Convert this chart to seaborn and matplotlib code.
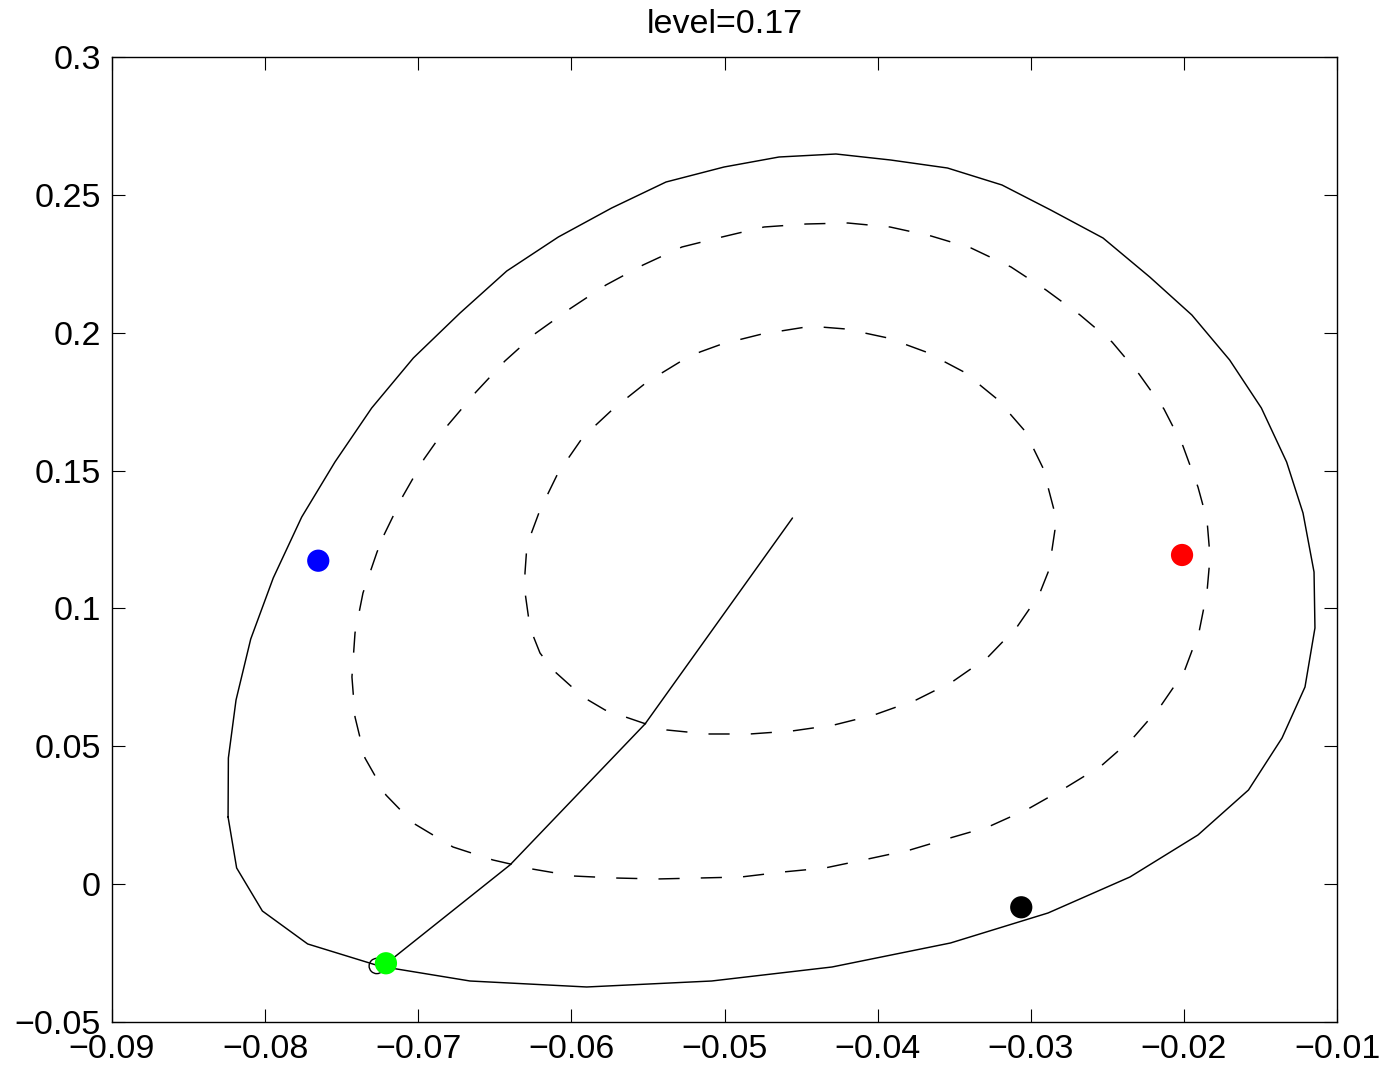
import numpy as np
import pandas as pd
import matplotlib
matplotlib.use("Agg")
import matplotlib.pyplot as plt
import seaborn as sns

# ---------------- data ----------------
title_text = "level=0.17"

# outer solid closed contour
outer_x = [-0.08242, -0.08240, -0.08190, -0.08094, -0.07947, -0.07761, -0.07544, -0.07304,
           -0.07032, -0.06727, -0.06422, -0.06085, -0.05737, -0.05382, -0.05003, -0.04644,
           -0.04272, -0.03915, -0.03544, -0.03188, -0.02870, -0.02528, -0.02223, -0.01948,
           -0.01701, -0.01494, -0.01329, -0.01222, -0.01150, -0.01144, -0.01209, -0.01359,
           -0.01578, -0.01908, -0.02352, -0.02887, -0.03524, -0.04298, -0.05084, -0.05900,
           -0.06662, -0.07141, -0.07276, -0.07722, -0.08018, -0.08186]
outer_y = [0.02435, 0.04575, 0.06679, 0.08891, 0.11104, 0.13316, 0.15311, 0.17270,
           0.19083, 0.20715, 0.22238, 0.23472, 0.24523, 0.25466, 0.26010, 0.26373,
           0.26482, 0.26264, 0.25974, 0.25358, 0.24451, 0.23435, 0.22021, 0.20643,
           0.19010, 0.17270, 0.15311, 0.13461, 0.11321, 0.09290, 0.07151, 0.05301,
           0.03415, 0.01783, 0.00260, -0.01046, -0.02134, -0.03005, -0.03513, -0.03730,
           -0.03513, -0.03077, -0.02932, -0.02170, -0.00974, 0.00586]

# middle dashed closed contour
mid_x = [-0.07224, -0.07100, -0.06962, -0.06806, -0.06623, -0.06434, -0.06231, -0.06002,
         -0.05774, -0.05532, -0.05278, -0.05016, -0.04742, -0.04468, -0.04194, -0.03919,
         -0.03651, -0.03390, -0.03129, -0.02900, -0.02678, -0.02469, -0.02293, -0.02130,
         -0.02006, -0.01908, -0.01849, -0.01829, -0.01849, -0.01901, -0.01999, -0.02156,
         -0.02332, -0.02541, -0.02776, -0.03018, -0.03279, -0.03527, -0.03789, -0.04063,
         -0.04344, -0.04618, -0.04892, -0.05160, -0.05441, -0.05715, -0.05989, -0.06257,
         -0.06512, -0.06773, -0.07034, -0.07211, -0.07348, -0.07413, -0.07433, -0.07413,
         -0.07361, -0.07269]
mid_y = [0.12663, 0.14078, 0.15420, 0.16653, 0.17850, 0.18974, 0.19990, 0.20896,
         0.21731, 0.22456, 0.23109, 0.23472, 0.23834, 0.23943, 0.23979, 0.23834,
         0.23508, 0.23073, 0.22384, 0.21549, 0.20643, 0.19663, 0.18503, 0.17233,
         0.15891, 0.14404, 0.13207, 0.11865, 0.10596, 0.09145, 0.07695, 0.06425,
         0.05301, 0.04285, 0.03487, 0.02726, 0.02073, 0.01674, 0.01239, 0.00912,
         0.00586, 0.00441, 0.00259, 0.00223, 0.00187, 0.00223, 0.00296, 0.00550,
         0.00876, 0.01347, 0.02218, 0.03233, 0.04575, 0.06062, 0.07513, 0.09109,
         0.10560, 0.12047]

# inner dashed closed contour
inner_x = [-0.05160, -0.05016, -0.04755, -0.04468, -0.04370, -0.04207, -0.03932, -0.03684,
           -0.03436, -0.03220, -0.03038, -0.02920, -0.02848, -0.02842, -0.02881, -0.02946,
           -0.03090, -0.03279, -0.03514, -0.03749, -0.04024, -0.04285, -0.04559, -0.04834,
           -0.05114, -0.05376, -0.05532, -0.05780, -0.05924, -0.06120, -0.06205, -0.06270,
           -0.06303, -0.06303, -0.06290, -0.06205, -0.06087, -0.05924, -0.05728, -0.05506,
           -0.05271]
inner_y = [0.19301, 0.19591, 0.19953, 0.20207, 0.20207, 0.20135, 0.19808, 0.19301,
           0.18575, 0.17596, 0.16435, 0.15093, 0.13570, 0.12845, 0.11394, 0.10487,
           0.09327, 0.08239, 0.07332, 0.06679, 0.06135, 0.05772, 0.05555, 0.05446,
           0.05446, 0.05591, 0.05845, 0.06316, 0.06788, 0.07767, 0.08384, 0.09290,
           0.10596, 0.11285, 0.12301, 0.13570, 0.14912, 0.16218, 0.17233, 0.18213,
           0.19010]

# solid path from the centre to the outer contour
path_x = [-0.04556, -0.05519, -0.06401, -0.07204]
path_y = [0.13280, 0.05809, 0.00695, -0.02860]

# filled points
pt_names = ["blue", "red", "black", "green"]
pt_x = [-0.07653, -0.02012, -0.03062, -0.07211]
pt_y = [0.11731, 0.11938, -0.00839, -0.02870]

# open circle
open_x = [-0.07271]
open_y = [-0.02969]

x_ticks = [-0.09, -0.08, -0.07, -0.06, -0.05, -0.04, -0.03, -0.02, -0.01]
x_labels = ["\u22120.09", "\u22120.08", "\u22120.07", "\u22120.06", "\u22120.05",
            "\u22120.04", "\u22120.03", "\u22120.02", "\u22120.01"]
y_ticks = [-0.05, 0.0, 0.05, 0.1, 0.15, 0.2, 0.25, 0.3]
y_labels = ["\u22120.05", "0", "0.05", "0.1", "0.15", "0.2", "0.25", "0.3"]

# ---------------- plot ----------------
sns.set_theme(style="ticks")
plt.rcParams["font.family"] = ["Liberation Sans", "DejaVu Sans"]
plt.rcParams["text.color"] = "black"

fig = plt.figure(figsize=(13.85, 10.71), dpi=100)
ax = fig.add_axes([112 / 1385, 1 - 1022 / 1071, (1337 - 112) / 1385, (1022 - 57) / 1071])


def closed(xs, ys):
    return pd.DataFrame({"x": list(xs) + [xs[0]], "y": list(ys) + [ys[0]]})


d_outer = closed(outer_x, outer_y)
d_mid = closed(mid_x, mid_y)
d_inner = closed(inner_x, inner_y)
d_path = pd.DataFrame({"x": path_x, "y": path_y})

sns.lineplot(data=d_outer, x="x", y="y", sort=False, estimator=None, color="black",
             linewidth=1.05, ax=ax)
sns.lineplot(data=d_mid, x="x", y="y", sort=False, estimator=None, color="black",
             linewidth=1.05, linestyle=(0, (14.5, 14.5)), ax=ax)
sns.lineplot(data=d_inner, x="x", y="y", sort=False, estimator=None, color="black",
             linewidth=1.05, linestyle=(0, (14.5, 14.5)), ax=ax)
sns.lineplot(data=d_path, x="x", y="y", sort=False, estimator=None, color="black",
             linewidth=1.05, ax=ax)

ax.scatter(open_x, open_y, s=11 ** 2, facecolors="none", edgecolors="black",
           linewidths=1.0, zorder=4)

d_pts = pd.DataFrame({"x": pt_x, "y": pt_y, "name": pt_names})
sns.scatterplot(data=d_pts, x="x", y="y", hue="name",
                palette={"blue": "#0000ff", "red": "#ff0000", "black": "#000000",
                         "green": "#00ff00"},
                s=16 ** 2, linewidth=0, legend=False, zorder=5, ax=ax)

ax.set_xlim(-0.09, -0.01)
ax.set_ylim(-0.05, 0.3)
ax.set_xticks(x_ticks)
ax.set_xticklabels(x_labels)
ax.set_yticks(y_ticks)
ax.set_yticklabels(y_labels)
ax.set_xlabel("")
ax.set_ylabel("")

for s in ax.spines.values():
    s.set_visible(True)
    s.set_linewidth(1.0)
    s.set_color("black")

ax.tick_params(axis="both", which="major", direction="in", length=9.5, width=0.8,
               top=True, right=True, labelsize=24.5, colors="black")
ax.tick_params(axis="x", pad=9)
ax.tick_params(axis="y", pad=8)
ax.set_title(title_text, fontsize=24.5, pad=17, color="black")

fig.savefig("out.png", dpi=100, facecolor="white")
